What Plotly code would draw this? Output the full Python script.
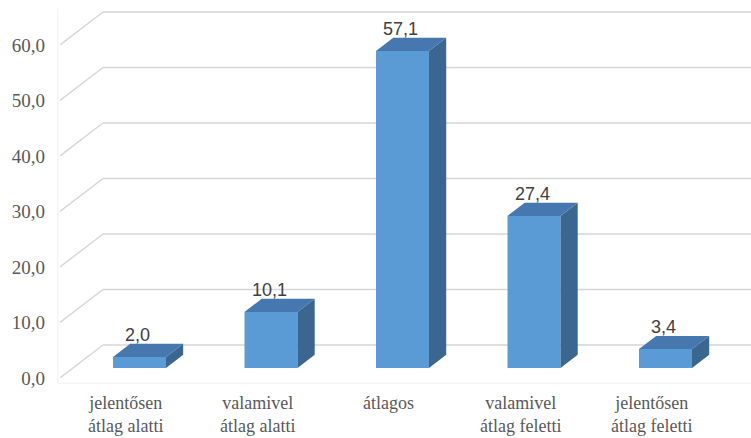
import plotly.graph_objects as go

# Survey distribution (percent) by category
CATEGORIES = [
    "jelentősen<br>átlag alatti",
    "valamivel<br>átlag alatti",
    "átlagos",
    "valamivel<br>átlag feletti",
    "jelentősen<br>átlag feletti",
]
VALUES = [2.0, 10.1, 57.1, 27.4, 3.4]
Y_TICKS = [0, 10, 20, 30, 40, 50, 60]

# Pseudo-3D geometry (in axis units)
DX = 0.327          # horizontal shift of the full floor depth
DY = 5.95           # vertical shift of the full floor depth
F0, F1 = 0.32, 0.72 # front/back depth fractions of the bars
BAR_W = 0.403

FRONT = "#5B9BD5"
TOP = "#4677AE"
SIDE = "#3B6690"
GRID = "#D6D6D6"
LABEL_GRAY = "#595959"
SERIF = "Liberation Serif, Times New Roman, Times, serif"

fig = go.Figure()

n = len(VALUES)
xs = [i + F0 * DX for i in range(n)]
base = F0 * DY - 0.1
dd = F1 - F0

# side and top faces of each bar
for xc, v in zip(xs, VALUES):
    xl, xr = xc - BAR_W / 2, xc + BAR_W / 2
    top = base + v
    fig.add_trace(go.Scatter(
        x=[xr, xr, xr + dd * DX, xr + dd * DX, xr],
        y=[base, top, top + dd * DY, base + dd * DY, base],
        fill="toself", fillcolor=SIDE, mode="lines", line=dict(width=0),
        hoverinfo="skip", showlegend=False))
    fig.add_trace(go.Scatter(
        x=[xl, xr, xr + dd * DX, xl + dd * DX, xl],
        y=[top, top, top + dd * DY, top + dd * DY, top],
        fill="toself", fillcolor=TOP, mode="lines", line=dict(width=0),
        hoverinfo="skip", showlegend=False))

# front faces
fig.add_trace(go.Bar(
    x=xs, y=VALUES, base=[base] * n, width=BAR_W,
    marker=dict(color=FRONT, line=dict(width=0)),
    showlegend=False, hoverinfo="skip"))

# back-wall gridlines with the diagonal on the left side wall
shapes = []
for t in Y_TICKS:
    shapes.append(dict(type="line", xref="x", yref="y", layer="below",
                       x0=-0.5, y0=t, x1=-0.5 + DX, y1=t + DY,
                       line=dict(color=GRID, width=1.4)))
    shapes.append(dict(type="line", xref="x", yref="y", layer="below",
                       x0=-0.5 + DX, y0=t + DY, x1=6, y1=t + DY,
                       line=dict(color=GRID, width=1.4)))
# faint plot-area border
shapes.append(dict(type="line", xref="paper", yref="paper", layer="below",
                   x0=-0.003, y0=-0.014, x1=-0.003, y1=1.005,
                   line=dict(color="#F0F0F0", width=1)))
shapes.append(dict(type="line", xref="paper", yref="paper", layer="below",
                   x0=-0.003, y0=-0.014, x1=1, y1=-0.014,
                   line=dict(color="#F0F0F0", width=1)))

annotations = []
# value labels above each bar
for xc, v in zip(xs, VALUES):
    annotations.append(dict(
        x=xc - 0.015, y=base + v + dd * DY, xref="x", yref="y",
        text=f"{v:.1f}".replace(".", ","), showarrow=False,
        yanchor="bottom", xanchor="center", yshift=-3,
        font=dict(family="Liberation Sans, Arial, sans-serif", size=18,
                  color="#404040")))

# category labels below the floor
PLOT_H = 438 - 10 - 60
for i, cat in enumerate(CATEGORIES):
    ypx = 403 if "<br>" not in cat else 414
    annotations.append(dict(
        x=i, y=(378 - ypx) / PLOT_H, xref="x", yref="paper",
        text=cat, showarrow=False, yanchor="middle", xanchor="center",
        borderpad=0,
        font=dict(family=SERIF, size=18, color=LABEL_GRAY)))

fig.update_layout(
    width=751, height=438,
    margin=dict(l=60, r=0, t=10, b=60),
    paper_bgcolor="white", plot_bgcolor="white",
    separators=", ",
    shapes=shapes, annotations=annotations,
    xaxis=dict(range=[-0.5, -0.5 + 691 / 131.5], showgrid=False,
               zeroline=False, showticklabels=False, showline=False,
               fixedrange=True),
    yaxis=dict(range=[0, 368 / 5.55], tickvals=Y_TICKS, tickformat=".1f",
               showgrid=False, zeroline=False, showline=False,
               ticklabelstandoff=14,
               tickfont=dict(family=SERIF, size=19, color=LABEL_GRAY),
               fixedrange=True),
)

fig.write_html("out.html")
